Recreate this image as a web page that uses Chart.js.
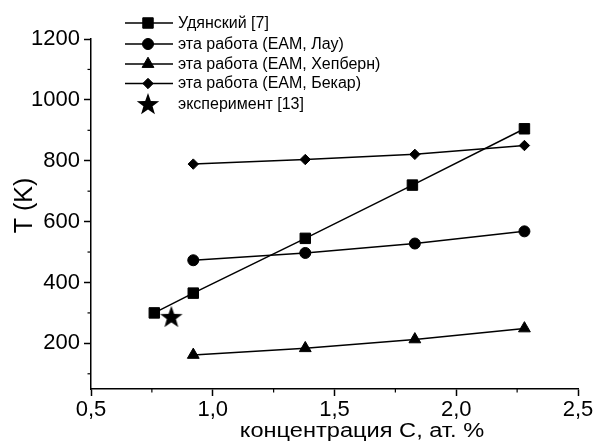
<!DOCTYPE html>
<html><head><meta charset="utf-8">
<script src="https://cdn.jsdelivr.net/npm/chart.js@4.4.1/dist/chart.umd.min.js"></script>
<style>html,body{margin:0;padding:0;background:#fff}#wrap{width:596px;height:443px}</style>
</head><body><div id="wrap"><canvas id="c" width="596" height="443"></canvas></div>
<script>
const seriesNames = ['Удянский [7]', 'эта работа (EAM, Лау)', 'эта работа (EAM, Хепберн)', 'эта работа (EAM, Бекар)', 'эксперимент [13]'];
const xUdyansky = [0.76, 0.92, 1.38, 1.82, 2.28];
const yUdyansky = [300, 365, 545, 720, 905];
const xThisWork = [0.92, 1.38, 1.83, 2.28];
const yLau = [473, 497, 528, 568];
const yHepburn = [162, 184, 213, 249];
const yBekar = [789, 804, 821, 850];
const xExperiment = [0.83];
const yExperiment = [287];
const yMajorTicks = [200, 400, 600, 800, 1000, 1200];
const yMinorTicks = [100, 300, 500, 700, 900, 1100];
const xMajorTicks = [0.5, 1.0, 1.5, 2.0, 2.5];
const xMinorTicks = [0.75, 1.25, 1.75, 2.25];
const xTitle = 'концентрация С, ат. %';
const yTitle = 'T (K)';

function pts(xs, ys){ return xs.map((x,i)=>({x:x, y:ys[i]})); }

// filled five-pointed star image
const star = document.createElement('canvas');
star.width = 24; star.height = 24;
(function(){
  const g = star.getContext('2d');
  g.fillStyle = '#000';
  g.beginPath();
  const cx=12, cy=12.8, R=11.8, r=4.8;
  for (let i=0;i<10;i++){
    const a = -Math.PI/2 + i*Math.PI/5;
    const rad = i%2===0 ? R : r;
    const px = cx + rad*Math.cos(a), py = cy + rad*Math.sin(a);
    if(i===0) g.moveTo(px,py); else g.lineTo(px,py);
  }
  g.closePath(); g.fill();
})();

const FONT = "'Liberation Sans', Arial, sans-serif";

const legendPlugin = {
  id: 'inlineLegend',
  afterDraw(chart){
    const ctx = chart.ctx;
    ctx.save();
    const rows = [23, 44, 64, 83.5, 104];
    chart.data.datasets.forEach((ds, i) => {
      const y = rows[i];
      if (ds.showLine) {
        ctx.strokeStyle = '#000'; ctx.lineWidth = 1.5;
        ctx.beginPath(); ctx.moveTo(125, y); ctx.lineTo(173, y); ctx.stroke();
      }
      ctx.fillStyle = '#000'; ctx.strokeStyle = '#000'; ctx.lineWidth = 1;
      Chart.helpers.drawPoint(ctx, {pointStyle: ds.pointStyle, radius: ds.pointRadius, rotation: 0, borderWidth: 1}, 148, y);
      ctx.fillStyle = '#000';
      ctx.font = '16px ' + FONT;
      ctx.textBaseline = 'middle'; ctx.textAlign = 'left';
      ctx.fillText(ds.label, 178, y + 0.5);
    });
    ctx.restore();
  }
};

const axisDecorPlugin = {
  id: 'axisDecor',
  afterDraw(chart){
    const ctx = chart.ctx, xs = chart.scales.x, ys = chart.scales.y;
    ctx.save();
    ctx.strokeStyle = '#000'; ctx.lineWidth = 1.2;
    yMinorTicks.forEach(v => {
      const p = ys.getPixelForValue(v);
      ctx.beginPath(); ctx.moveTo(xs.left - 3.5, p); ctx.lineTo(xs.left, p); ctx.stroke();
    });
    xMinorTicks.forEach(v => {
      const p = xs.getPixelForValue(v);
      ctx.beginPath(); ctx.moveTo(p, ys.bottom); ctx.lineTo(p, ys.bottom + 3.5); ctx.stroke();
    });
    // axis titles
    ctx.fillStyle = '#000';
    ctx.textAlign = 'center'; ctx.textBaseline = 'alphabetic';
    ctx.save();
    ctx.translate(362, 437);
    ctx.scale(1.18, 1);
    ctx.font = '20px ' + FONT;
    ctx.fillText(chart.options.scales.x.title.text, 0, 0);
    ctx.restore();
    ctx.translate(32, 205.5);
    ctx.rotate(-Math.PI/2);
    ctx.font = '25px ' + FONT;
    ctx.fillText(chart.options.scales.y.title.text, 0, 0);
    ctx.restore();
  }
};

const common = {borderColor:'#000', backgroundColor:'#000', pointBackgroundColor:'#000', pointBorderColor:'#000', borderWidth:1.5, showLine:true, pointBorderWidth:1};

new Chart(document.getElementById('c'), {
  type: 'scatter',
  data: { datasets: [
    Object.assign({}, common, {label: seriesNames[0], data: pts(xUdyansky, yUdyansky), pointStyle:'rect', pointRadius:7.4}),
    Object.assign({}, common, {label: seriesNames[1], data: pts(xThisWork, yLau), pointStyle:'circle', pointRadius:5.5}),
    Object.assign({}, common, {label: seriesNames[2], data: pts(xThisWork, yHepburn), pointStyle:'triangle', pointRadius:6.8}),
    Object.assign({}, common, {label: seriesNames[3], data: pts(xThisWork, yBekar), pointStyle:'rectRot', pointRadius:5.2}),
    Object.assign({}, common, {label: seriesNames[4], data: pts(xExperiment, yExperiment), pointStyle: star, pointRadius:12, showLine:false})
  ]},
  options: {
    responsive: false, animation: false, devicePixelRatio: 1,
    layout: { padding: { left: 0, right: 18, top: 39, bottom: 0 } },
    plugins: { legend: { display: false }, tooltip: { enabled: false } },
    scales: {
      x: {
        type: 'linear', min: 0.5, max: 2.5,
        afterBuildTicks: s => { s.ticks = xMajorTicks.map(v => ({value: v})); },
        afterFit: s => { s.height = 54; },
        border: { display: true, color: '#000', width: 1.5 },
        grid: { display: true, drawOnChartArea: false, drawTicks: true, tickLength: 7, tickColor: '#000', tickWidth: 1.5 },
        ticks: { color: '#000', font: { family: FONT, size: 22 }, padding: 1, maxRotation: 0,
                 callback: v => v.toFixed(1).replace('.', ',') },
        title: { display: false, text: xTitle }
      },
      y: {
        type: 'linear', min: 50, max: 1200,
        afterBuildTicks: s => { s.ticks = yMajorTicks.map(v => ({value: v})); },
        afterFit: s => { s.width = 91; },
        border: { display: true, color: '#000', width: 1.5 },
        grid: { display: true, drawOnChartArea: false, drawTicks: true, tickLength: 7, tickColor: '#000', tickWidth: 1.5 },
        ticks: { color: '#000', font: { family: FONT, size: 22 }, padding: 4, callback: v => String(v) },
        title: { display: false, text: yTitle }
      }
    }
  },
  plugins: [legendPlugin, axisDecorPlugin]
});
</script></body></html>
